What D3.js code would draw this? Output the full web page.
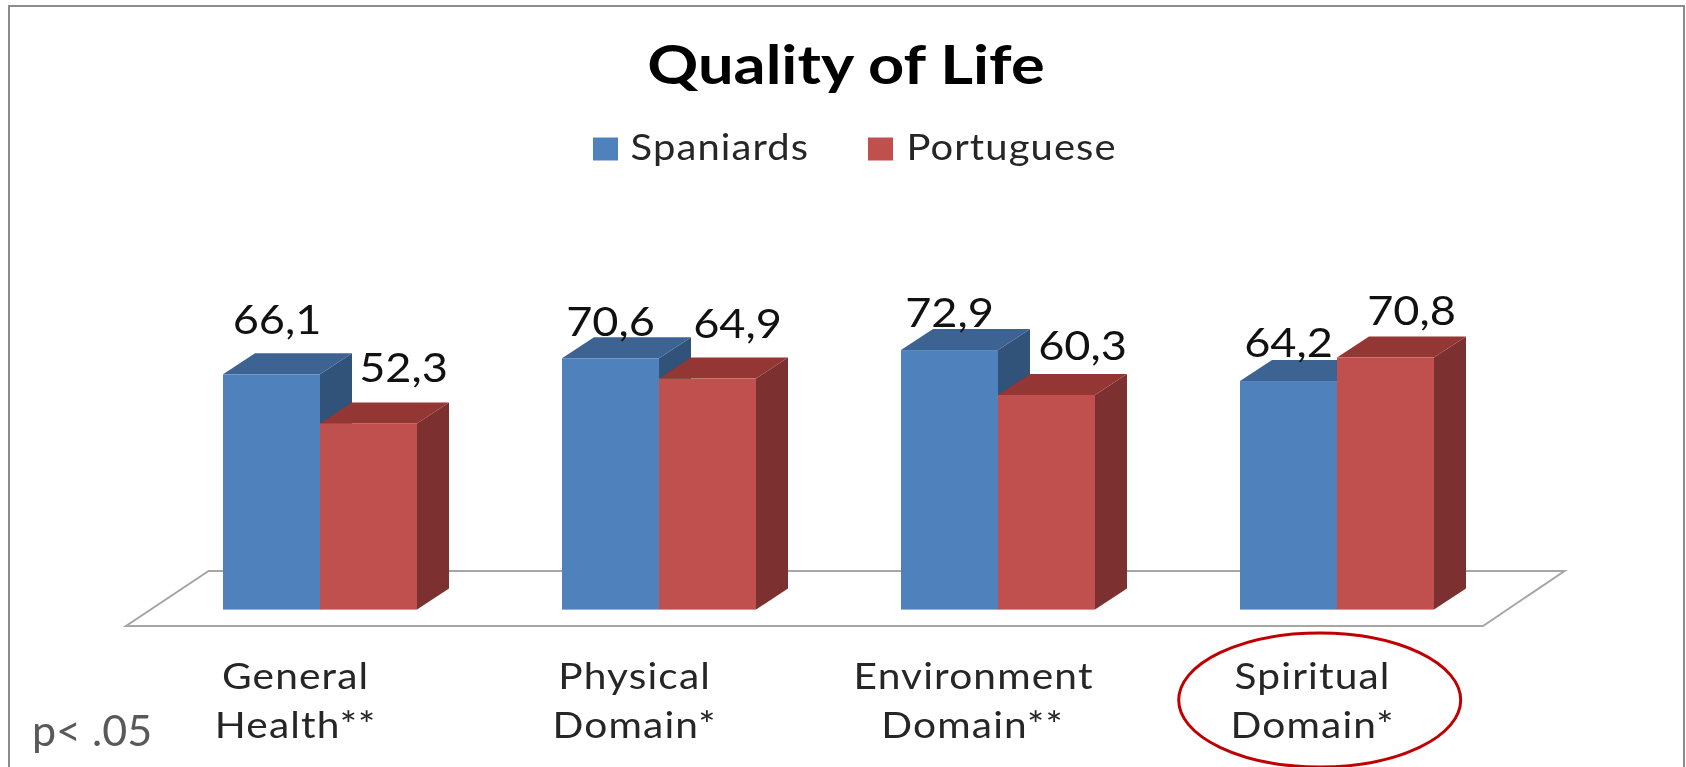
<!DOCTYPE html>
<html><head><meta charset="utf-8">
<script src="https://cdnjs.cloudflare.com/ajax/libs/d3/7.8.5/d3.min.js"></script>
<style>html,body{margin:0;padding:0;background:#fff;overflow:hidden}svg{display:block;filter:blur(0.6px)}text{font-family:Lato,"Open Sans",sans-serif}</style>
</head><body><svg id="c" width="1686" height="767"></svg>
<script>
const categories = ["General|Health**","Physical|Domain*","Environment|Domain**","Spiritual|Domain*"];
const seriesNames = ["Spaniards","Portuguese"];
const spaniards = [66.1,70.6,72.9,64.2];
const portuguese = [52.3,64.9,60.3,70.8];
const title = "Quality of Life";
const note = "p< .05";

// layout & style
const baseY=609.6, pxPerUnit=3.56, dx=32, dy=21;
const colors=[{front:"#4f81bd",top:"#3d6392",side:"#325379"},{front:"#c0504d",top:"#943634",side:"#7d3030"}];
const labelNudge=[[[5.5,40],[35,41]],[[0,22.7],[30,41]],[[0,23],[36,35]],[[0,24],[26,32.6]]];
const fmt=v=>d3.format(".1f")(v).replace(".",",");
const svg=d3.select("#c");
const stretched=(sel,x,y,sx)=>sel.attr("transform",`translate(${x},${y}) scale(${sx},1)`);

const x=d3.scaleBand().domain(categories).range([223-70.9,223-70.9+339*4]).paddingInner(0).paddingOuter(0);
const inner=d3.scaleBand().domain([0,1]).range([70.9,70.9+194]);
const y=d3.scaleLinear().domain([0,100]).range([baseY,baseY-pxPerUnit*100]);

// frame
svg.append("rect").attr("x",9).attr("y",6).attr("width",1675).attr("height",770).attr("fill","#fff").attr("stroke","#8c8c8c").attr("stroke-width",2);

// floor
const fl=[[126,626],[1483,626],[1564.5,571],[208.6,571]];
svg.append("path").attr("d",d3.line()(fl)+"Z").attr("fill","#fff").attr("stroke","#a6a6a6").attr("stroke-width",2);

// bars
const values=[spaniards,portuguese];
categories.forEach((c,i)=>{
  values.forEach((vals,s)=>{
    const x0=x(c)+inner(s), x1=x0+inner.bandwidth(), yt=y(vals[i]), yb=y(0), col=colors[s];
    const g=svg.append("g");
    g.append("path").attr("fill",col.side).attr("d",d3.line()([[x1,yt],[x1+dx,yt-dy],[x1+dx,yb-dy],[x1,yb]])+"Z");
    g.append("path").attr("fill",col.top).attr("d",d3.line()([[x0,yt],[x0+dx,yt-dy],[x1+dx,yt-dy],[x1,yt]])+"Z");
    g.append("rect").attr("x",x0).attr("y",yt).attr("width",x1-x0).attr("height",yb-yt).attr("fill",col.front);
  });
});
// data labels
categories.forEach((c,i)=>{
  values.forEach((vals,s)=>{
    const cx=x(c)+inner(s)+inner.bandwidth()/2+labelNudge[i][s][0], by=y(vals[i])-labelNudge[i][s][1];
    svg.append("text").text(fmt(vals[i])).attr("text-anchor","middle").attr("font-size",41).attr("fill","#111")
      .call(stretched,cx,by,1.1);
  });
});

// category axis
const axis=svg.append("g").call(d3.axisBottom(x).tickSize(0).tickFormat(""));
axis.select(".domain").remove();
axis.selectAll(".tick text").remove();
axis.selectAll(".tick").each(function(c){
  const parts=c.split("|"), t=d3.select(this);
  parts.forEach((p,k)=>{
    t.append("text").text(p).attr("text-anchor","middle").attr("font-size",36).attr("fill","#262626")
      .style("letter-spacing","1px")
      .call(stretched,-26+(k&&c.includes("Environment")?-1:0),689+49*k,1.13);
  });
});

// title
svg.append("text").text(title).attr("text-anchor","middle").attr("font-size",54).attr("font-weight",700).attr("fill","#000").call(stretched,846,84,1.17);

// legend
const legendPos=[[593,630.6],[868,906.4]];
seriesNames.forEach((n,i)=>{
  svg.append("rect").attr("x",legendPos[i][0]).attr("y",137.5).attr("width",25).attr("height",23).attr("fill",colors[i].front);
  svg.append("text").text(n).attr("font-size",36).attr("fill","#262626").style("letter-spacing","1px").call(stretched,legendPos[i][1],160,1.11);
});

// note
svg.append("text").text(note).attr("font-size",43).attr("fill","#595959").call(stretched,32,746,1.0);

// highlight
svg.append("ellipse").attr("cx",1319.7).attr("cy",700).attr("rx",141).attr("ry",67).attr("fill","none").attr("stroke","#c00000").attr("stroke-width",3);
</script></body></html>
